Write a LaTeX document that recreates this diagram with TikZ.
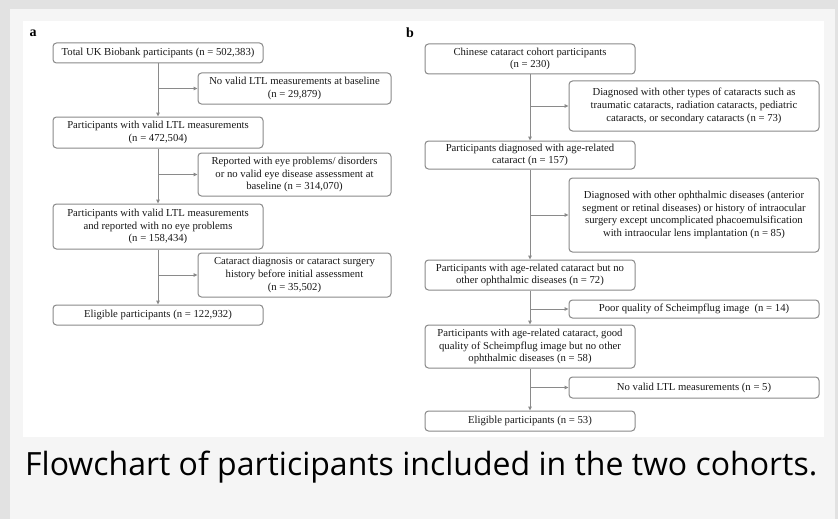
\documentclass[tikz,border=0pt]{standalone}
\usepackage{fontspec}
\setmainfont{Liberation Serif}
\newfontfamily\capfont{Open Sans}
\usetikzlibrary{arrows.meta}
\definecolor{linegray}{HTML}{8A8A8A}
\definecolor{pagegray}{HTML}{F5F5F5}
\definecolor{framegray}{HTML}{E2E2E2}

\begin{document}
\begin{tikzpicture}[x=1pt,y=-1pt,
  box/.style={draw=linegray, line width=1pt, rounded corners=3.5pt, inner sep=0pt,
    align=center, font=\fontsize{10.7}{12.7}\selectfont, text=black!90},
  mainbox/.style={box, minimum width=210pt},
  sidebox/.style={box, minimum width=193pt},
  widebox/.style={box, minimum width=250pt},
  flow/.style={draw=linegray, line width=1pt, -{Triangle[length=4pt,width=3.5pt]}}]
\useasboundingbox (0,0) rectangle (838,519);
\fill[framegray] (0,0) rectangle (838,519);
\fill[pagegray] (10,9) rectangle (835,519);
\fill[white] (23,21) rectangle (824,437);

\node[font=\bfseries\fontsize{14}{16}\selectfont] (la) at (33,33) {a};
\node[font=\bfseries\fontsize{14}{16}\selectfont] (lb) at (410,33) {b};

\node[mainbox, minimum height=20pt] (A1) at (158,53) {Total UK Biobank participants (n = 502,383)};
\node[sidebox, minimum height=31pt] (E1) at (294.5,88.5) {No valid LTL measurements at baseline\\(n = 29,879)};
\node[mainbox, minimum height=31pt] (A2) at (158,132.5) {Participants with valid LTL measurements\\(n = 472,504)};
\node[sidebox, minimum height=43pt] (E2) at (294.5,174.5) {Reported with eye problems/ disorders\\or no valid eye disease assessment at\\baseline (n = 314,070)};
\node[mainbox, minimum height=45pt] (A3) at (158,226.5) {Participants with valid LTL measurements\\and reported with no eye problems\\(n = 158,434)};
\node[sidebox, minimum height=44pt] (E3) at (294.5,275) {Cataract diagnosis or cataract surgery\\history before initial assessment\\(n = 35,502)};
\node[mainbox, minimum height=20pt] (A4) at (158,315) {Eligible participants (n = 122,932)};

\node[mainbox, minimum height=30pt] (B1) at (530,59) {Chinese cataract cohort participants\\(n = 230)};
\node[widebox, minimum height=50pt] (F1) at (694,106) {Diagnosed with other types of cataracts such as\\traumatic cataracts, radiation cataracts, pediatric\\cataracts, or secondary cataracts (n = 73)};
\node[mainbox, minimum height=28pt] (B2) at (530,155) {Participants diagnosed with age-related\\cataract (n = 157)};
\node[widebox, minimum height=74pt] (F2) at (694,215) {Diagnosed with other ophthalmic diseases (anterior\\segment or retinal diseases) or history of intraocular\\surgery except uncomplicated phacoemulsification\\with intraocular lens implantation (n = 85)};
\node[mainbox, minimum height=30pt] (B3) at (530,275) {Participants with age-related cataract but no\\other ophthalmic diseases (n = 72)};
\node[widebox, minimum height=18pt] (F3) at (694,309) {Poor quality of Scheimpflug image~~(n = 14)};
\node[mainbox, minimum height=43pt] (B4) at (530,346.5) {Participants with age-related cataract, good\\quality of Scheimpflug image but no other\\ophthalmic diseases (n = 58)};
\node[widebox, minimum height=21pt] (F4) at (694,387.5) {No valid LTL measurements (n = 5)};
\node[mainbox, minimum height=20pt] (B5) at (530,421) {Eligible participants (n = 53)};

\draw[flow] (A1) -- (A2);
\draw[flow] (A2) -- (A3);
\draw[flow] (A3) -- (A4);
\draw[flow] (A1 |- E1) -- (E1);
\draw[flow] (A2 |- E2) -- (E2);
\draw[flow] (A3 |- E3) -- (E3);

\draw[flow] (B1) -- (B2);
\draw[flow] (B2) -- (B3);
\draw[flow] (B3) -- (B4);
\draw[flow] (B4) -- (B5);
\draw[flow] (B1 |- F1) -- (F1);
\draw[flow] (B2 |- F2) -- (F2);
\draw[flow] (B3 |- F3) -- (F3);
\draw[flow] (B4 |- F4) -- (F4);

\node[font=\capfont\fontsize{32}{36}\selectfont, anchor=base west, inner sep=0pt] (cap) at (25,475) {Flowchart of participants included in the two cohorts.};
\end{tikzpicture}
\end{document}
